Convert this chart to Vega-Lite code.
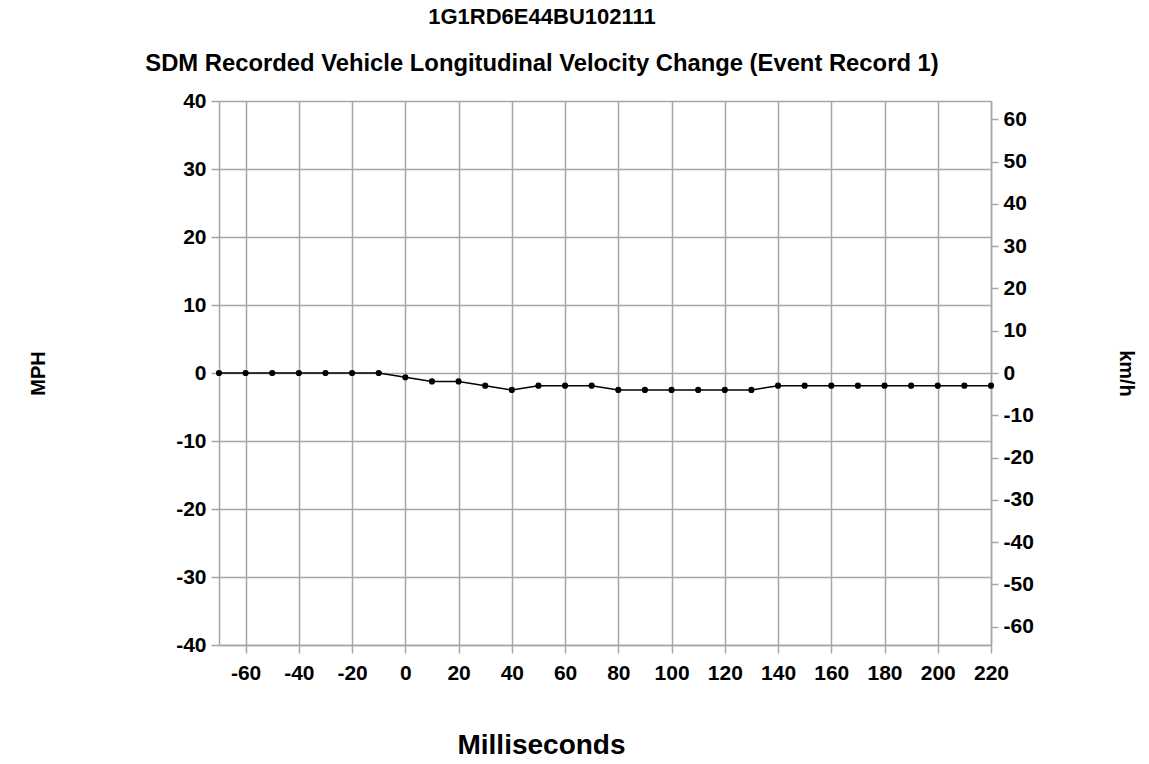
{
  "$schema": "https://vega.github.io/schema/vega-lite/v6.json",
  "autosize": "none",
  "width": 772,
  "height": 544,
  "padding": {"left": 219, "top": 101, "right": 158, "bottom": 119},
  "background": "white",
  "config": {
    "font": "Liberation Sans",
    "view": {"stroke": null},
    "axis": {
      "labelFont": "Liberation Sans",
      "labelFontWeight": "bold",
      "labelFontSize": 21,
      "labelColor": "black",
      "labelExpr": "'' + datum.value",
      "titleFont": "Liberation Sans",
      "titleFontWeight": "bold",
      "titleColor": "black",
      "domainColor": "#a6a6a6",
      "domainWidth": 1.5,
      "tickColor": "#a6a6a6",
      "tickWidth": 1.5,
      "gridColor": "#a6a6a6",
      "gridWidth": 1.5,
      "gridOpacity": 1
    }
  },
  "title": {
    "text": "1G1RD6E44BU102111",
    "subtitle": "SDM Recorded Vehicle Longitudinal Velocity Change (Event Record 1)",
    "font": "Liberation Sans",
    "fontSize": 22,
    "fontWeight": "bold",
    "color": "black",
    "subtitleFont": "Liberation Sans",
    "subtitleFontSize": 23.8,
    "subtitleFontWeight": "bold",
    "subtitleColor": "black",
    "subtitlePadding": 23,
    "anchor": "middle",
    "dx": -63,
    "offset": 13
  },
  "data": {
    "values": [
      {"ms": -70, "mph": 0, "kmh": 0},
      {"ms": -60, "mph": 0, "kmh": 0},
      {"ms": -50, "mph": 0, "kmh": 0},
      {"ms": -40, "mph": 0, "kmh": 0},
      {"ms": -30, "mph": 0, "kmh": 0},
      {"ms": -20, "mph": 0, "kmh": 0},
      {"ms": -10, "mph": 0, "kmh": 0},
      {"ms": 0, "mph": -0.62, "kmh": -1},
      {"ms": 10, "mph": -1.24, "kmh": -2},
      {"ms": 20, "mph": -1.24, "kmh": -2},
      {"ms": 30, "mph": -1.86, "kmh": -3},
      {"ms": 40, "mph": -2.49, "kmh": -4},
      {"ms": 50, "mph": -1.86, "kmh": -3},
      {"ms": 60, "mph": -1.86, "kmh": -3},
      {"ms": 70, "mph": -1.86, "kmh": -3},
      {"ms": 80, "mph": -2.49, "kmh": -4},
      {"ms": 90, "mph": -2.49, "kmh": -4},
      {"ms": 100, "mph": -2.49, "kmh": -4},
      {"ms": 110, "mph": -2.49, "kmh": -4},
      {"ms": 120, "mph": -2.49, "kmh": -4},
      {"ms": 130, "mph": -2.49, "kmh": -4},
      {"ms": 140, "mph": -1.86, "kmh": -3},
      {"ms": 150, "mph": -1.86, "kmh": -3},
      {"ms": 160, "mph": -1.86, "kmh": -3},
      {"ms": 170, "mph": -1.86, "kmh": -3},
      {"ms": 180, "mph": -1.86, "kmh": -3},
      {"ms": 190, "mph": -1.86, "kmh": -3},
      {"ms": 200, "mph": -1.86, "kmh": -3},
      {"ms": 210, "mph": -1.86, "kmh": -3},
      {"ms": 220, "mph": -1.86, "kmh": -3}
    ]
  },
  "encoding": {
    "x": {
      "field": "ms",
      "type": "quantitative",
      "scale": {"domain": [-70, 220], "nice": false, "zero": false},
      "axis": {
        "title": "Milliseconds",
        "titleFontSize": 28,
        "titleX": 322,
        "titleY": 100,
        "titleBaseline": "middle",
        "titleAlign": "center",
        "values": [-60, -40, -20, 0, 20, 40, 60, 80, 100, 120, 140, 160, 180, 200, 220],
        "grid": true,
        "tickSize": 8,
        "labelPadding": 9,
        "labelFlush": false,
        "labelOverlap": false
      }
    }
  },
  "layer": [
    {
      "mark": {"type": "line", "color": "black", "strokeWidth": 1.5, "point": {"filled": true, "color": "black", "size": 38, "opacity": 1}},
      "encoding": {
        "y": {
          "field": "mph",
          "type": "quantitative",
          "scale": {"domain": [-40, 40], "nice": false},
          "axis": {
            "title": "MPH",
            "titleFontSize": 20,
            "titleAngle": -90,
            "titleX": -181,
            "titleY": 272,
            "titleBaseline": "middle",
            "titleAlign": "center",
            "values": [-40, -30, -20, -10, 0, 10, 20, 30, 40],
            "grid": true,
            "tickSize": 8,
            "labelPadding": 5,
            "labelFlush": false,
            "labelOverlap": false
          }
        }
      }
    },
    {
      "mark": {"type": "point", "opacity": 0},
      "encoding": {
        "y": {
          "field": "kmh",
          "type": "quantitative",
          "scale": {"domain": [-64.3738, 64.3738], "nice": false},
          "axis": {
            "orient": "right",
            "title": "km/h",
            "titleFontSize": 20,
            "titleAngle": 90,
            "titleX": 134,
            "titleY": 272,
            "titleBaseline": "middle",
            "titleAlign": "center",
            "values": [-60, -50, -40, -30, -20, -10, 0, 10, 20, 30, 40, 50, 60],
            "grid": false,
            "tickSize": 7,
            "labelPadding": 5,
            "labelFlush": false,
            "labelOverlap": false
          }
        }
      }
    }
  ],
  "resolve": {"scale": {"y": "independent"}}
}
